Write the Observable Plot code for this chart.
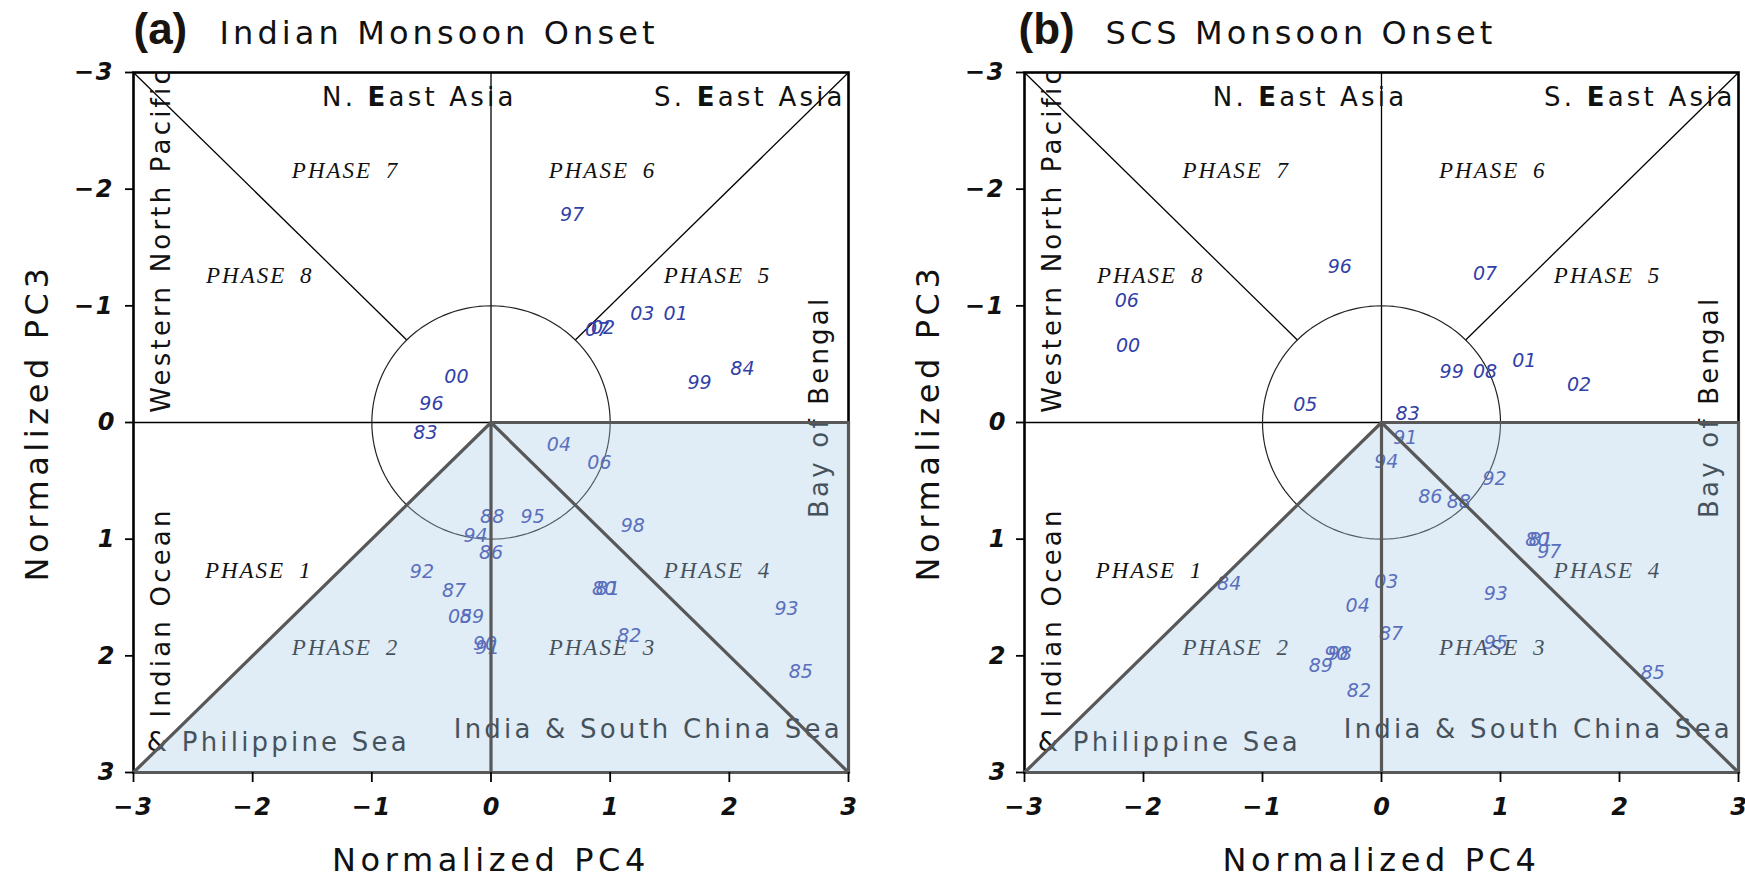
<!DOCTYPE html>
<html>
<head>
<meta charset="utf-8">
<script src="https://cdn.jsdelivr.net/npm/d3@7"></script>
<script src="https://cdn.jsdelivr.net/npm/@observablehq/plot@0.6"></script>
<style>
html, body { margin: 0; padding: 0; background: #fff; overflow: hidden; }
#wrap { display: flex; width: 1745px; height: 880px; }
</style>
</head>
<body>
<div id="wrap"></div>
<script>
// ---------- data ----------
const ticks = [-3, -2, -1, 0, 1, 2, 3];
const panelTags = ["(a)", "(b)"];
const panelTitles = ["Indian Monsoon Onset", "SCS Monsoon Onset"];
const xTitle = "Normalized PC4";
const yTitle = "Normalized PC3";

// Panel (a): Indian monsoon onset years
const yearsA = ["00","96","83","97","07","02","03","01","99","84","04","06","88","95","98","94","86","92","87","05","89","90","91","80","81","82","93","85"];
const pc4A = [-0.29,-0.50,-0.55,0.68,0.89,0.94,1.27,1.55,1.75,2.11,0.57,0.91,0.01,0.35,1.19,-0.13,0.00,-0.58,-0.31,-0.26,-0.16,-0.05,-0.03,0.95,0.98,1.16,2.48,2.60];
const pc3A = [-0.39,-0.16,0.09,-1.78,-0.79,-0.81,-0.93,-0.93,-0.34,-0.46,0.19,0.35,0.81,0.81,0.89,0.97,1.12,1.28,1.44,1.67,1.67,1.90,1.93,1.43,1.43,1.83,1.60,2.14];

// Panel (b): SCS monsoon onset years
const yearsB = ["96","06","00","05","07","99","08","01","02","83","91","94","92","86","88","80","81","97","03","93","87","95","85","84","04","90","98","89","82"];
const pc4B = [-0.35,-2.14,-2.13,-0.64,0.87,0.59,0.87,1.20,1.66,0.22,0.20,0.04,0.95,0.41,0.65,1.31,1.34,1.41,0.04,0.96,0.08,0.96,2.28,-1.28,-0.20,-0.38,-0.35,-0.51,-0.19];
const pc3B = [-1.33,-1.04,-0.66,-0.15,-1.27,-0.43,-0.43,-0.53,-0.32,-0.07,0.13,0.34,0.48,0.64,0.68,1.01,1.01,1.11,1.37,1.47,1.81,1.89,2.15,1.38,1.57,1.98,1.98,2.09,2.30];

// Phase labels
const phaseLabels = ["PHASE 1","PHASE 2","PHASE 3","PHASE 4","PHASE 5","PHASE 6","PHASE 7","PHASE 8"];
const phaseX = [-1.95,-1.22,0.935,1.90,1.90,0.935,-1.22,-1.94];
const phaseY = [1.27,1.93,1.93,1.27,-1.26,-2.16,-2.16,-1.26];

// Region labels
const regionLabels = ["N. East Asia","S. East Asia","Western North Pacific","Indian Ocean","& Philippine Sea","India & South China Sea","Bay of Bengal"];
const regionX = [-1.418, 2.977, -2.695, -2.695, -2.888, 2.952, 2.826];
const regionY = [-2.714, -2.714, -0.083, 2.528, 2.813, 2.70, 0.818];
const regionRotate = [0, 0, -90, -90, 0, 0, -90];
const regionEnd = [false, true, false, false, false, true, false];

// Phase-space geometry (data units)
const r45 = Math.SQRT1_2;
const thinSegments = [[-3,0,3,0],[0,-3,0,0],[-3,-3,-r45,-r45],[3,-3,r45,-r45]];
const thickSegments = [[0,0,-3,3],[0,0,3,3],[0,0,0,3],[0,0,3,0],[3,0,3,3],[-3,3,3,3]];
const shadeX = [-3, 0, 3];
const shadeTop = [3, 0, 0];
const shadeBottom = [3, 3, 3];
const unitCircle = d3.range(0, 361, 3).map(a => ({x: Math.cos(a * Math.PI / 180), y: Math.sin(a * Math.PI / 180)}));

// ---------- drawing ----------
const SANS = "DejaVu Sans";
function styleTexts(svg) {
  d3.select(svg).selectAll("text").each(function () {
    const t = this.textContent;
    const s = d3.select(this);
    if (regionLabels.includes(t)) {
      s.style("letter-spacing", "3.2px");
      const i = t.indexOf("East");
      if (i >= 0) {
        s.text(null);
        s.append("tspan").text(t.slice(0, i));
        s.append("tspan").attr("font-weight", "bold").text("E");
        s.append("tspan").text(t.slice(i + 1));
      }
    } else if (t.startsWith("PHASE")) {
      s.style("letter-spacing", "2px").style("word-spacing", "6px");
    } else if (panelTitles.includes(t)) {
      s.style("letter-spacing", "4.1px");
    } else if (t === xTitle || t === yTitle) {
      s.style("letter-spacing", "4.6px");
    } else if (/^\u2212\d$/.test(t)) {
      s.style("letter-spacing", "2px");
    }
  });
}

function panel(k, years, pc4, pc3, width, ml, mr, tagDx, titleDx) {
  const pts = years.map((t, i) => ({t, x: pc4[i], y: pc3[i]}));
  const regions = regionLabels.map((t, i) => ({t, x: regionX[i], y: regionY[i], r: regionRotate[i], end: regionEnd[i]}));
  const phases = phaseLabels.map((t, i) => ({t, x: phaseX[i], y: phaseY[i]}));
  const shade = shadeX.map((x, i) => ({x, y1: shadeTop[i], y2: shadeBottom[i]}));
  const seg = {x1: d => d[0], y1: d => d[1], x2: d => d[2], y2: d => d[3]};
  const fmt = d => (d < 0 ? "\u2212" : "") + Math.abs(d);
  const svg = Plot.plot({
    width, height: 880,
    marginLeft: ml, marginRight: mr, marginTop: 72, marginBottom: 108,
    x: {domain: [-3, 3]},
    y: {domain: [-3, 3], reverse: true},
    style: {background: "white", overflow: "visible"},
    marks: [
      Plot.frame({stroke: "black", strokeWidth: 2.6}),
      Plot.link(thinSegments, {...seg, stroke: "black", strokeWidth: 1.3}),
      Plot.line(unitCircle, {x: "x", y: "y", stroke: "#222", strokeWidth: 1.2}),
      Plot.text(regions.filter(d => !d.end), {x: "x", y: "y", text: "t", rotate: "r", textAnchor: "start", lineAnchor: "bottom",
        fontSize: 26, fontFamily: SANS, fill: "#111"}),
      Plot.text(regions.filter(d => d.end), {x: "x", y: "y", text: "t", textAnchor: "end", lineAnchor: "bottom",
        fontSize: 26, fontFamily: SANS, fill: "#111"}),
      Plot.text(phases, {x: "x", y: "y", text: "t", textAnchor: "middle", lineAnchor: "middle",
        fontSize: 23, fontFamily: "Liberation Serif", fontStyle: "italic", fill: "#111"}),
      Plot.text(pts, {x: "x", y: "y", text: "t", textAnchor: "middle", lineAnchor: "middle",
        fontSize: 19, fontFamily: SANS, fontStyle: "italic", fill: "#3140a8"}),
      Plot.areaY(shade, {x: "x", y1: "y1", y2: "y2", fill: "rgb(166,200,229)", fillOpacity: 0.35}),
      Plot.link(thickSegments, {...seg, stroke: "#585858", strokeWidth: 3.2, strokeLinecap: "round"}),
      Plot.axisX(ticks, {anchor: "bottom", tickSize: 10, tickPadding: 15, tickFormat: fmt, fontSize: 24, fontFamily: SANS,
        fontStyle: "italic", fontWeight: "bold", fill: "#111", stroke: "black", strokeWidth: 1.8, label: null}),
      Plot.axisY(ticks, {anchor: "left", tickSize: 8, tickPadding: 11, tickFormat: fmt, fontSize: 24, fontFamily: SANS,
        fontStyle: "italic", fontWeight: "bold", fill: "#111", stroke: "black", strokeWidth: 1.8, label: null}),
      Plot.text([yTitle], {text: d => d, frameAnchor: "left", dx: -96, rotate: -90, textAnchor: "middle", lineAnchor: "middle",
        fontSize: 32, fontFamily: SANS, fill: "#111"}),
      Plot.text([xTitle], {text: d => d, frameAnchor: "bottom", dy: 88, textAnchor: "middle", lineAnchor: "middle",
        fontSize: 32, fontFamily: SANS, fill: "#111"}),
      Plot.text([panelTags[k]], {text: d => d, frameAnchor: "top-left", dx: tagDx, dy: -29, textAnchor: "start", lineAnchor: "bottom",
        fontSize: 44, fontFamily: "Liberation Sans", fontWeight: "bold", fill: "#1a1410"}),
      Plot.text([panelTitles[k]], {text: d => d, frameAnchor: "top-left", dx: titleDx, dy: -29, textAnchor: "start", lineAnchor: "bottom",
        fontSize: 32, fontFamily: SANS, fill: "#111"})
    ]
  });
  styleTexts(svg);
  return svg;
}

const wrap = document.getElementById("wrap");
wrap.appendChild(panel(0, yearsA, pc4A, pc3A, 872, 133, 24, 0, 86));
wrap.appendChild(panel(1, yearsB, pc4B, pc3B, 873, 152, 7, -6, 81));
</script>
</body>
</html>
